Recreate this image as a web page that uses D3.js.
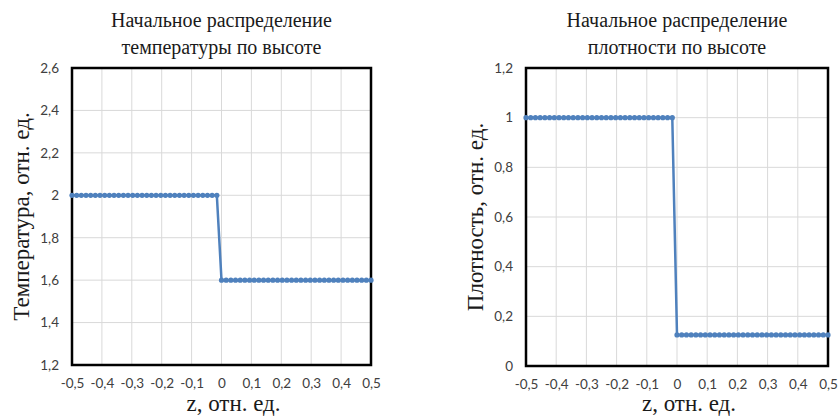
<!DOCTYPE html>
<html lang="ru">
<head>
<meta charset="utf-8">
<script src="https://d3js.org/d3.v7.min.js"></script>
<style>
  body { margin: 0; background: #fff; }
  .tick text { font-family: Lato, "Open Sans", sans-serif; font-size: 13.5px; fill: #404040; }
  .ttl { font-family: "Liberation Serif", "Times New Roman", serif; fill: #1a1a1a; }
</style>
</head>
<body>
<div id="chart"></div>
<script>

// z coordinate, relative units
var zValues = [-0.5, -0.4844, -0.4688, -0.4531, -0.4375, -0.4219, -0.4063, -0.3906,
  -0.375, -0.3594, -0.3438, -0.3281, -0.3125, -0.2969, -0.2813, -0.2656,
  -0.25, -0.2344, -0.2188, -0.2031, -0.1875, -0.1719, -0.1563, -0.1406,
  -0.125, -0.1094, -0.0938, -0.0781, -0.0625, -0.0469, -0.0313, -0.0156,
  0, 0.0156, 0.0313, 0.0469, 0.0625, 0.0781, 0.0938, 0.1094,
  0.125, 0.1406, 0.1563, 0.1719, 0.1875, 0.2031, 0.2188, 0.2344,
  0.25, 0.2656, 0.2813, 0.2969, 0.3125, 0.3281, 0.3438, 0.3594,
  0.375, 0.3906, 0.4063, 0.4219, 0.4375, 0.4531, 0.4688, 0.4844, 0.5];

var tempValues = [2, 2, 2, 2, 2, 2, 2, 2, 2, 2, 2, 2, 2, 2, 2, 2,
  2, 2, 2, 2, 2, 2, 2, 2, 2, 2, 2, 2, 2, 2, 2, 2,
  1.6, 1.6, 1.6, 1.6, 1.6, 1.6, 1.6, 1.6, 1.6, 1.6, 1.6, 1.6, 1.6, 1.6, 1.6, 1.6,
  1.6, 1.6, 1.6, 1.6, 1.6, 1.6, 1.6, 1.6, 1.6, 1.6, 1.6, 1.6, 1.6, 1.6, 1.6, 1.6, 1.6];

var densValues = [1, 1, 1, 1, 1, 1, 1, 1, 1, 1, 1, 1, 1, 1, 1, 1,
  1, 1, 1, 1, 1, 1, 1, 1, 1, 1, 1, 1, 1, 1, 1, 1,
  0.125, 0.125, 0.125, 0.125, 0.125, 0.125, 0.125, 0.125, 0.125, 0.125, 0.125, 0.125, 0.125, 0.125, 0.125, 0.125,
  0.125, 0.125, 0.125, 0.125, 0.125, 0.125, 0.125, 0.125, 0.125, 0.125, 0.125, 0.125, 0.125, 0.125, 0.125, 0.125, 0.125];

var xTicks = [-0.5, -0.4, -0.3, -0.2, -0.1, 0, 0.1, 0.2, 0.3, 0.4, 0.5];
var tempTicks = [1.2, 1.4, 1.6, 1.8, 2, 2.2, 2.4, 2.6];
var densTicks = [0, 0.2, 0.4, 0.6, 0.8, 1, 1.2];

var W = 839, H = 416;
var blue = "#4f81bd";

var ru = d3.formatLocale({decimal: ",", thousands: " ", grouping: [3], currency: ["", ""], minus: "-"});
var fmt = ru.format("~g");

var svg = d3.select("#chart").append("svg")
  .attr("width", W)
  .attr("height", H);

function drawChart(opt) {
  var x = d3.scaleLinear().domain([-0.5, 0.5]).range([opt.left, opt.right]);
  var y = d3.scaleLinear().domain(opt.yDomain).range([opt.bottom, opt.top]);
  var g = svg.append("g");

  // gridlines
  g.selectAll("line.vg").data(xTicks).enter().append("line")
    .attr("x1", function(d) { return x(d); }).attr("x2", function(d) { return x(d); })
    .attr("y1", opt.top).attr("y2", opt.bottom)
    .attr("stroke", "#d9d9d9").attr("stroke-width", 1);
  g.selectAll("line.hg").data(opt.yTicks).enter().append("line")
    .attr("y1", function(d) { return y(d); }).attr("y2", function(d) { return y(d); })
    .attr("x1", opt.left).attr("x2", opt.right)
    .attr("stroke", "#d9d9d9").attr("stroke-width", 1);

  // axes (labels only)
  var xa = g.append("g").attr("transform", "translate(0," + (opt.bottom + 9) + ")")
    .call(d3.axisBottom(x).tickValues(xTicks).tickFormat(fmt).tickSize(0).tickPadding(4));
  xa.select(".domain").remove();
  var ya = g.append("g").attr("transform", "translate(" + (opt.left - 13) + ",0)")
    .call(d3.axisLeft(y).tickValues(opt.yTicks).tickFormat(fmt).tickSize(0).tickPadding(0));
  ya.select(".domain").remove();

  // plot frame
  g.append("rect")
    .attr("x", opt.left).attr("y", opt.top)
    .attr("width", opt.right - opt.left).attr("height", opt.bottom - opt.top)
    .attr("fill", "none").attr("stroke", "#000").attr("stroke-width", 2.5);

  // series
  var pts = zValues.map(function(z, i) { return [z, opt.values[i]]; });
  g.append("path").datum(pts)
    .attr("fill", "none").attr("stroke", blue).attr("stroke-width", 2.5)
    .attr("d", d3.line().x(function(d) { return x(d[0]); }).y(function(d) { return y(d[1]); }));
  g.selectAll("circle").data(pts).enter().append("circle")
    .attr("cx", function(d) { return x(d[0]); })
    .attr("cy", function(d) { return y(d[1]); })
    .attr("r", 2.6).attr("fill", blue);

  // titles
  var cx = (opt.left + opt.right) / 2;
  var t = g.append("text").attr("class", "ttl").attr("text-anchor", "middle")
    .attr("font-size", 20);
  t.append("tspan").attr("x", cx).attr("y", 27).text(opt.title[0]);
  t.append("tspan").attr("x", cx).attr("y", 54).text(opt.title[1]);

  g.append("text").attr("class", "ttl").attr("text-anchor", "middle")
    .attr("font-size", 23)
    .attr("x", cx + 12).attr("y", 411)
    .text("z, отн. ед.");

  g.append("text").attr("class", "ttl").attr("text-anchor", "middle")
    .attr("font-size", 23)
    .attr("transform", "translate(" + (opt.left - 43) + "," + ((opt.top + opt.bottom) / 2) + ") rotate(-90)")
    .text(opt.yTitle);
}

drawChart({
  left: 72, right: 371, top: 68, bottom: 365,
  yDomain: [1.2, 2.6], yTicks: tempTicks, values: tempValues,
  title: ["Начальное распределение", "температуры по высоте"],
  yTitle: "Температура, отн. ед."
});

drawChart({
  left: 526, right: 828, top: 68, bottom: 366,
  yDomain: [0, 1.2], yTicks: densTicks, values: densValues,
  title: ["Начальное распределение", "плотности по высоте"],
  yTitle: "Плотность, отн. ед."
});

</script>
</body>
</html>
